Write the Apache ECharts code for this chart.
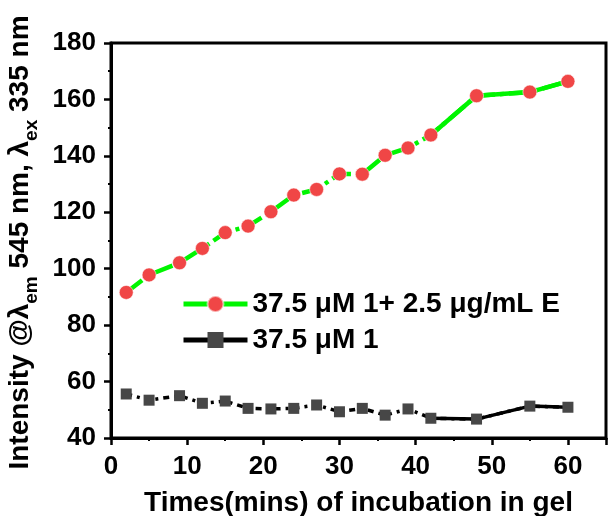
<!DOCTYPE html>
<html>
<head>
<meta charset="utf-8">
<script src="https://cdn.jsdelivr.net/npm/echarts@6/dist/echarts.min.js"></script>
<style>
  html, body { margin: 0; padding: 0; background: #fff; }
  #chart { width: 608px; height: 516px; }
</style>
</head>
<body>
<div id="chart"></div>
<script>
// Incubation time (min) and emission intensity readings
const times = [2, 5, 9, 12, 15, 18, 21, 24, 27, 30, 33, 36, 39, 42, 48, 55, 60];
const withEnzyme = [91.6, 97.8, 102.1, 107.2, 112.8, 115.1, 120.2, 126.1, 128.1, 133.6, 133.5, 140.2, 142.8, 147.4, 161.3, 162.6, 166.4];
const probeOnly = [55.6, 53.4, 55.0, 52.3, 53.1, 50.5, 50.3, 50.5, 51.7, 49.3, 50.5, 48.1, 50.3, 47.0, 46.7, 51.3, 50.9];
const seriesNames = ['37.5 \u03bcM 1+ 2.5 \u03bcg/mL E', '37.5 \u03bcM 1'];
const xTicks = { min: 0, max: 65, step: 10 };
const yTicks = { min: 40, max: 180, step: 20 };
// readings from this index onward are joined by a solid line
const solidFrom = 13;

const pairs = (ys) => times.map((t, i) => [t, ys[i]]);
const tail = (ys) => pairs(ys).slice(solidFrom);

const FONT = '"Liberation Sans", Arial, sans-serif';
const GREEN = '#00f500';
const RED = '#f04646';
const GREY = '#474747';

const chart = echarts.init(document.getElementById('chart'));

const axisCommon = {
  axisLine: { show: true, lineStyle: { color: '#000', width: 3 } },
  axisTick: { show: true, inside: false, length: 7, lineStyle: { color: '#000', width: 2.5 } },
  minorTick: { show: true, splitNumber: 2, length: 3, lineStyle: { color: '#000', width: 2 } },
  splitLine: { show: false },
  axisLabel: { color: '#000', fontFamily: FONT, fontWeight: 'bold', fontSize: 26 }
};

chart.setOption({
  animation: false,
  backgroundColor: '#fff',
  grid: {
    left: 111, right: 2, top: 43, bottom: 78,
    containLabel: false, outerBoundsMode: 'none',
    show: true, borderColor: '#000', borderWidth: 3, backgroundColor: 'transparent'
  },
  legend: {
    orient: 'vertical',
    left: 176, top: 285,
    itemWidth: 64, itemHeight: 20, itemGap: 8,
    data: seriesNames,
    lineStyle: { type: 'solid', width: 5 },
    textStyle: { color: '#000', fontFamily: FONT, fontWeight: 'bold', fontSize: 28 }
  },
  xAxis: Object.assign({}, axisCommon, {
    type: 'value',
    min: xTicks.min, max: xTicks.max, interval: xTicks.step,
    axisLabel: Object.assign({}, axisCommon.axisLabel, { margin: 16, showMaxLabel: false }),
    name: 'Times(mins) of incubation in gel',
    nameLocation: 'middle', nameGap: 51,
    nameTextStyle: { color: '#000', fontFamily: FONT, fontWeight: 'bold', fontSize: 28 }
  }),
  yAxis: Object.assign({}, axisCommon, {
    type: 'value',
    min: yTicks.min, max: yTicks.max, interval: yTicks.step,
    axisLabel: Object.assign({}, axisCommon.axisLabel, { margin: 15 }),
    name: '{a|Intensity @\u03bb}{s|em}{a| 545 nm, \u03bb}{s|ex}{a| 335 nm}',
    nameLocation: 'middle', nameGap: 71, nameRotate: 90,
    nameTextStyle: {
      color: '#000', fontFamily: FONT, fontWeight: 'bold', fontSize: 28,
      padding: [0, 4, 0, 0],
      rich: {
        a: { color: '#000', fontFamily: FONT, fontWeight: 'bold', fontSize: 28, lineHeight: 34, verticalAlign: 'bottom' },
        s: { color: '#000', fontFamily: FONT, fontWeight: 'bold', fontSize: 19, lineHeight: 34, verticalAlign: 'bottom', padding: [0, 0, -7, 0] }
      }
    }
  }),
  series: [
    {
      name: seriesNames[0], type: 'line', z: 4,
      data: pairs(withEnzyme),
      symbol: 'circle', symbolSize: 14,
      itemStyle: { color: RED, borderColor: 'rgba(255,255,255,0.55)', borderWidth: 1 },
      lineStyle: { color: GREEN, width: 4.5, type: [20, 5, 4, 5] }
    },
    {
      name: seriesNames[1], type: 'line', z: 4,
      data: pairs(probeOnly),
      symbol: 'rect', symbolSize: 11,
      itemStyle: { color: GREY },
      lineStyle: { color: '#000', width: 3.5, type: [6, 5, 3, 5] }
    },
    {
      type: 'line', z: 2, silent: true, symbol: 'none',
      data: tail(withEnzyme),
      lineStyle: { color: GREEN, width: 4.5, type: 'solid' }
    },
    {
      type: 'line', z: 2, silent: true, symbol: 'none',
      data: tail(probeOnly),
      lineStyle: { color: '#000', width: 3.5, type: 'solid' }
    }
  ]
});
</script>
</body>
</html>
